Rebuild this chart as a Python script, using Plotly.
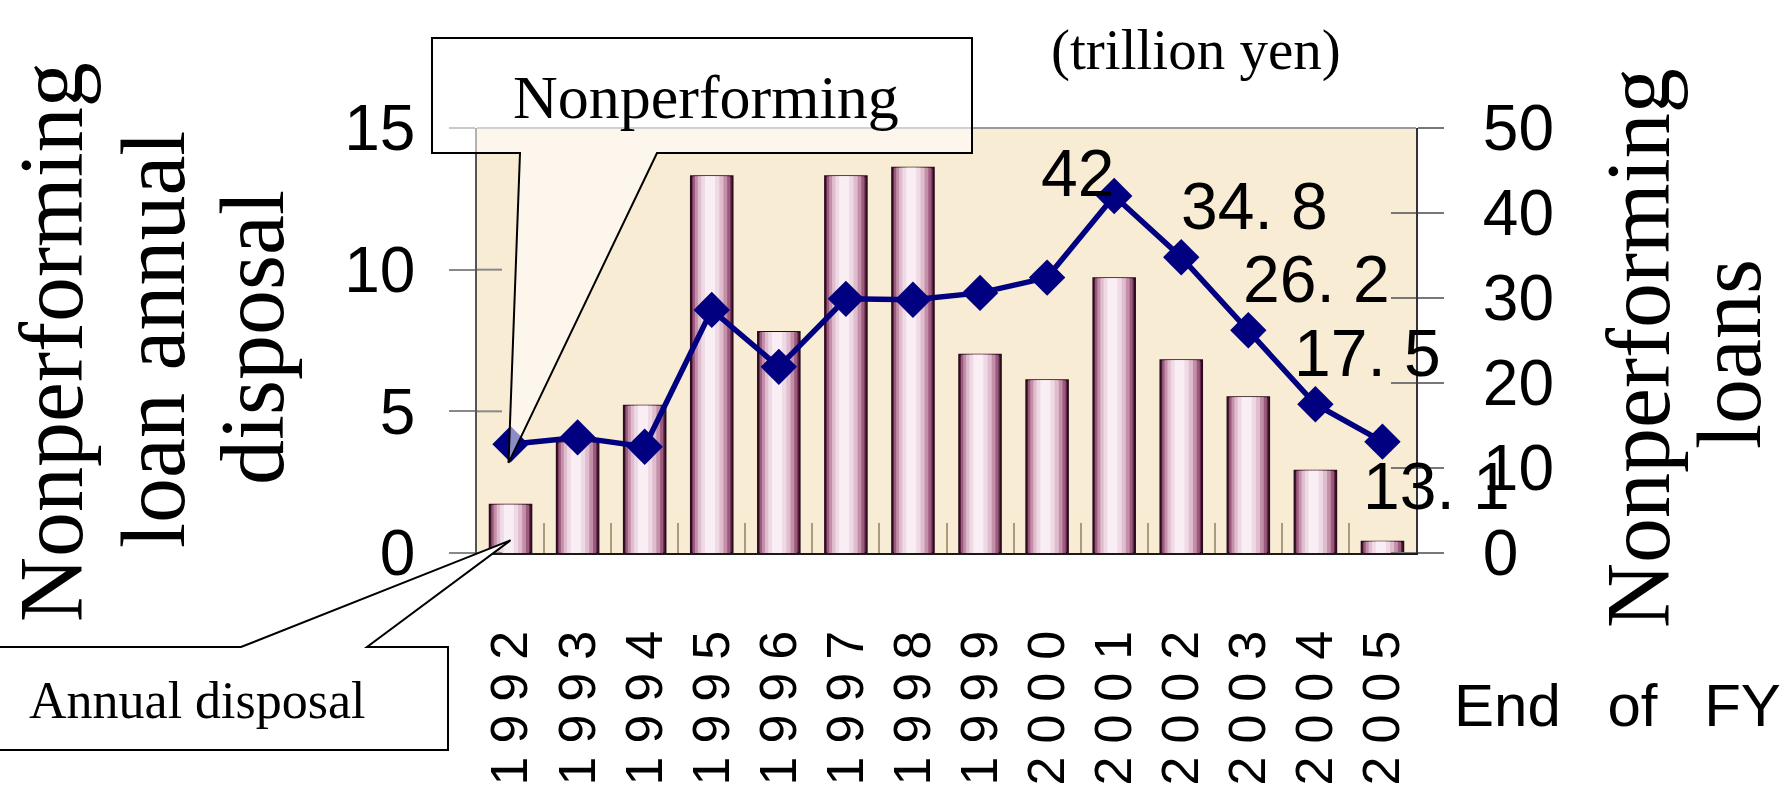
import plotly.graph_objects as go

# ---- data (trillion yen) ----
years = ["1992", "1993", "1994", "1995", "1996", "1997", "1998",
         "1999", "2000", "2001", "2002", "2003", "2004", "2005"]
annual_disposal = [1.7, 3.9, 5.2, 13.3, 7.8, 13.3, 13.6,
                   7.0, 6.1, 9.7, 6.8, 5.5, 2.9, 0.4]
npl_outstanding = [12.8, 13.6, 12.5, 28.6, 21.9, 29.9, 29.8,
                   30.6, 32.4, 42.0, 34.8, 26.2, 17.5, 13.1]
labelled_years = ["2001", "2002", "2003", "2004", "2005"]
left_ticks = [0, 5, 10, 15]
right_ticks = [0, 10, 20, 30, 40, 50]

# ---- page geometry ----
W, H = 1789, 795
ML, MR, MT, MB = 477, 373, 128, 242
PW, PH = W - ML - MR, H - MT - MB


def paper(px, py):
    return (px - ML) / PW, (H - MB - py) / PH


SERIF = "Liberation Serif, Times New Roman, serif"
SANS = "Liberation Sans, Arial, sans-serif"

fig = go.Figure()

# cylinder-like bars: overlaid layers from dark rim to light core
bar_layers = [
    (0.62, 0.000, "#6a274d"),
    (0.56, -0.004, "#9c5a7d"),
    (0.48, -0.010, "#c48fa9"),
    (0.38, -0.016, "#dfbdce"),
    (0.27, -0.022, "#efd9e4"),
    (0.15, -0.026, "#f8eef3"),
]
for i, (w, shift, col) in enumerate(bar_layers):
    fig.add_trace(go.Bar(
        x=years, y=annual_disposal, width=w, offset=-w / 2 + shift,
        marker=dict(color=col,
                    line=dict(color="#2a0e1e", width=2 if i == 0 else 0)),
        yaxis="y", showlegend=False,
    ))

fig.add_trace(go.Scatter(
    x=years, y=npl_outstanding, yaxis="y2", mode="lines+markers",
    line=dict(color="#000080", width=5.5),
    marker=dict(symbol="diamond", size=28, color="#000080"),
    showlegend=False,
))

annotations = []

# value labels on the outstanding-loans line (anchor, x shift, y shift in px)
label_style = {
    "2001": ("right", 2, 23),
    "2002": ("left", -2, 51),
    "2003": ("left", -7, 51),
    "2004": ("left", -23, 51),
    "2005": ("left", -21, -44),
}
for yr in labelled_years:
    idx = years.index(yr)
    v = npl_outstanding[idx]
    txt = f"{v:g}" if float(v).is_integer() else f"{v:.1f}".replace(".", ". ")
    anchor, dx, dy = label_style[yr]
    annotations.append(dict(
        x=idx, y=v, xref="x", yref="y2", text=txt, showarrow=False,
        xanchor=anchor, yanchor="middle", xshift=dx, yshift=dy,
        font=dict(family=SANS, size=66, color="black"),
    ))

# axis titles
for txt, px, py in [("Nonperforming", 51, 342), ("loan annual", 153, 340),
                    ("disposal", 252, 338),
                    ("Nonperforming", 1638, 348), ("loans", 1729, 354)]:
    x, y = paper(px, py)
    annotations.append(dict(
        x=x, y=y, xref="paper", yref="paper", text=txt, showarrow=False,
        textangle=-90, xanchor="center", yanchor="middle",
        font=dict(family=SERIF, size=90, color="black"),
    ))

# unit, category caption and callout texts
for txt, px, py, fam, size in [
    ("(trillion yen)", 1196, 50, SERIF, 57),
    ("End\u2002\u00a0of\u2002\u00a0FY", 1617, 705, SANS, 60),
    ("Nonperforming", 706, 97, SERIF, 62),
    ("Annual disposal", 197, 700, SERIF, 52),
]:
    x, y = paper(px, py)
    annotations.append(dict(
        x=x, y=y, xref="paper", yref="paper", text=txt, showarrow=False,
        xanchor="center", yanchor="middle",
        font=dict(family=fam, size=size, color="black"),
    ))

shapes = []

# inner halves of the crossing tick marks on both value axes
for v in left_ticks:
    shapes.append(dict(type="line", xref="paper", yref="y", xsizemode="pixel",
                       xanchor=0, x0=0, x1=25, y0=v, y1=v,
                       line=dict(color="#888888", width=2)))
for v in right_ticks:
    shapes.append(dict(type="line", xref="paper", yref="y2", xsizemode="pixel",
                       xanchor=1, x0=-25, x1=0, y0=v, y1=v,
                       line=dict(color="#777777", width=2)))

# top border of the plot area
shapes.append(dict(type="line", xref="paper", yref="paper", x0=0, x1=1,
                   y0=1, y1=1, line=dict(color="#9a9a9a", width=2)))


def path(points):
    return "M " + " L ".join(f"{x:.5f},{y:.5f}" for x, y in points) + " Z"


n = len(years)
# callout pointing at the first point of the outstanding-loans line
tip1 = ((0 + 0.47) / n, (npl_outstanding[0] - 2.2) / 50)
box1 = [paper(432, 153), paper(432, 38), paper(972, 38), paper(972, 153),
        paper(657, 153), tip1, paper(520, 153)]
shapes.append(dict(type="path", xref="paper", yref="paper", path=path(box1),
                   fillcolor="rgba(255,255,255,0.55)",
                   line=dict(color="black", width=2), layer="above"))

# callout pointing at the first disposal bar
tip2 = ((0 + 0.5) / n, 0.45 / 15)
box2 = [paper(-4, 647), paper(241, 647), tip2, paper(367, 647),
        paper(448, 647), paper(448, 750), paper(-4, 750)]
shapes.append(dict(type="path", xref="paper", yref="paper", path=path(box2),
                   fillcolor="white",
                   line=dict(color="black", width=2), layer="above"))

fig.update_layout(
    width=W, height=H, autosize=False,
    margin=dict(l=ML, r=MR, t=MT, b=MB, pad=0, autoexpand=False),
    paper_bgcolor="white", plot_bgcolor="#f8ecd5",
    barmode="overlay",
    showlegend=False,
    xaxis=dict(
        type="category", range=[-0.5, n - 0.5], automargin=False,
        tickmode="array", tickvals=years,
        ticktext=["\u2005".join(y) for y in years],
        tickangle=-90, ticks="inside", tickson="boundaries", ticklen=30,
        tickcolor="#a89c7c", tickwidth=1.5,
        tickfont=dict(family=SANS, size=52, color="black"),
        ticklabelstandoff=55,
        showline=True, linecolor="#1a1a1a", linewidth=2,
        showgrid=False, zeroline=False,
    ),
    yaxis=dict(
        range=[0, 15], tickmode="array", tickvals=left_ticks, automargin=False,
        ticks="outside", ticklen=26, tickcolor="#888888", tickwidth=2,
        tickfont=dict(family=SANS, size=64, color="black"),
        ticklabelstandoff=21,
        showline=True, linecolor="#555555", linewidth=1.5,
        showgrid=False, zeroline=False,
    ),
    yaxis2=dict(
        overlaying="y", side="right", range=[0, 50], automargin=False,
        tickmode="array", tickvals=right_ticks,
        ticks="outside", ticklen=26, tickcolor="#777777", tickwidth=2,
        tickfont=dict(family=SANS, size=64, color="black"),
        ticklabelstandoff=26,
        showline=True, linecolor="#333333", linewidth=2,
        showgrid=False, zeroline=False,
    ),
    annotations=annotations,
    shapes=shapes,
)

fig.write_html("out.html")
